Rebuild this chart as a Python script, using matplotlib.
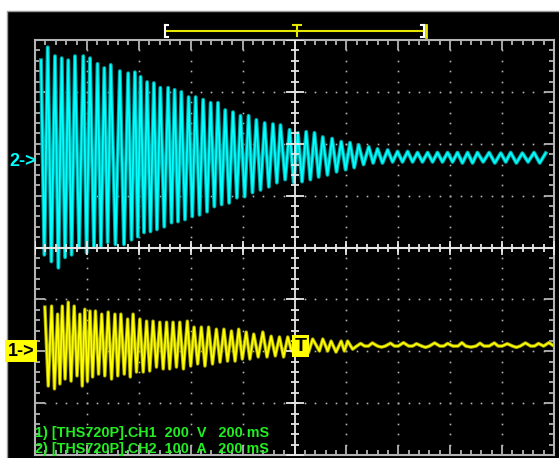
import numpy as np
import matplotlib
matplotlib.use('Agg')
import matplotlib.pyplot as plt
from matplotlib.patches import Rectangle
from matplotlib.lines import Line2D

plt.rcParams['font.family'] = ['Liberation Sans', 'DejaVu Sans']

# ---- channel 2 (current, A) : peaks and troughs, time in ms ----
ch2_peak_t = [-977, -951, -923, -897, -872, -846, -814, -788, -759, -733, -708, -673,
              -641, -615, -593, -568, -542, -517, -487, -462, -436, -408, -381,
              -352, -323, -295, -267, -237, -208, -177, -147, -115, -83, -54, -19, 13,
              45, 77, 109, 145, 180, 214, 247, 286, 320, 359, 397, 436,
              474, 513, 551, 590, 628, 667, 705, 750, 795, 833, 878, 923, 968]
ch2_peak_v = [188, 213, 196, 192, 188, 196, 196, 192, 181, 173, 179, 167,
              163, 165, 156, 146, 144, 135, 135, 131, 127, 117, 117,
              112, 106, 106, 92, 88, 81, 81, 73, 67, 65, 63, 54, 48,
              50, 48, 40, 37, 31, 29, 25, 21, 17, 15, 12, 12,
              10, 10, 10, 10, 10, 10, 10, 10, 9, 10, 9, 10, 9]
ch2_trough_t = [-964, -937, -910, -884, -859, -830, -801, -773, -746, -720, -690,
                -657, -628, -604, -580, -555, -530, -502, -474, -449, -422, -394,
                -366, -337, -309, -281, -252, -222, -192, -162, -131, -99, -68, -36, -3,
                29, 61, 93, 127, 162, 197, 230, 266, 303, 339, 378, 416, 455,
                493, 532, 570, 609, 647, 686, 727, 772, 814, 855, 900, 945]
ch2_trough_v = [-187, -200, -212, -192, -187, -173, -183, -171, -171, -163, -167,
                -167, -158, -152, -144, -142, -138, -133, -125, -123, -119, -113,
                -110, -104, -94, -90, -87, -77, -75, -67, -62, -56, -48, -42, -48,
                -46, -42, -37, -33, -27, -23, -19, -13, -10, -10, -8, -8, -8,
                -8, -8, -8, -8, -10, -10, -8, -10, -8, -10, -8, -10]

# ---- channel 1 (voltage, V) ----
ch1_peak_t = [-962, -936, -913, -895, -872, -849, -827, -808, -788, -767, -743,
              -718, -692, -669, -643, -622, -596, -570, -545, -519, -493,
              -468, -442, -413, -387, -359, -331, -301, -272, -243, -215, -186,
              -157, -122, -90, -58, -26, 4, 38, 70, 109, 141, 180, 205]
ch1_peak_v = [150, 154, 123, 154, 169, 154, 123, 142, 135, 135, 123,
              131, 123, 123, 104, 123, 104, 96, 96, 92, 92,
              92, 92, 96, 73, 73, 73, 65, 65, 58, 65, 54,
              46, 54, 38, 35, 35, 31, 27, 27, 27, 19, 19, 19]
ch1_trough_t = [-949, -925, -904, -884, -861, -838, -818, -798, -778, -755,
                -731, -705, -681, -656, -633, -609, -583, -558, -532, -506,
                -481, -455, -428, -400, -373, -345, -316, -287, -258, -229,
                -201, -172, -140, -106, -74, -42, -11, 21, 54,
                96, 128, 160, 192, 224]
ch1_trough_v = [-154, -165, -146, -127, -135, -115, -154, -135, -119, -108,
                -115, -127, -115, -108, -119, -100, -100, -96, -81, -88,
                -88, -81, -88, -77, -69, -77, -69, -62, -58, -58,
                -50, -50, -42, -42, -38, -42, -19, -30, -25,
                -19, -19, -23, -19, -12]
# residual noise after the oscillation has died out
ch1_tail_t = [240, 255, 270, 285, 300, 320, 335, 350, 370, 385, 400, 420, 440, 455, 470,
              490, 505, 520, 540, 560, 575, 590, 610, 630, 645, 660, 680, 700, 715, 730,
              750, 770, 785, 800, 820, 840, 855, 870, 890, 910, 925, 940, 960, 980, 1000]
ch1_tail_v = [0, 10, 0, 0, 12, 0, -4, 0, 11, 0, 0, 13, 0, 0, 9,
              0, -5, 0, 12, 0, 0, 10, 0, 0, 13, 0, -4, 0, 11, 0,
              0, 12, 0, 0, 9, 0, -5, 0, 12, 0, 0, 10, 0, 13, 0]

# scope settings
ch1_label = "1) [THS720P].CH1  200  V   200 mS"
ch2_label = "2) [THS720P].CH2  100  A   200 mS"
volt_per_div = 200
amp_per_div = 100
ms_per_div = 200
ch1_offset = -1.9   # divisions
ch2_offset = 1.73


def trace(peak_t, peak_v, trough_t, trough_v, tail_t=(), tail_v=()):
    t = np.array(list(peak_t) + list(trough_t) + list(tail_t), dtype=float)
    v = np.array(list(peak_v) + list(trough_v) + list(tail_v), dtype=float)
    order = np.argsort(t)
    return t[order], v[order]


W, H = 559, 458
fig = plt.figure(figsize=(W / 100, H / 100), dpi=100)
fig.patch.set_facecolor('white')
fig.add_artist(Rectangle((7 / W, -0.01), 1, (H - 11) / H + 0.01, transform=fig.transFigure,
                         facecolor='black', edgecolor='#9a9a9a', lw=1, zorder=-10))

ax = fig.add_axes([35 / W, 3 / H, 519 / W, 415 / H])
ax.set_facecolor('black')
ax.set_xlim(-5 * ms_per_div, 5 * ms_per_div)
ax.set_ylim(-4, 4)

grid_col = '#b4b4b4'
for s in ax.spines.values():
    s.set_color(grid_col)
    s.set_linewidth(1.5)
ax.set_xticks(np.arange(-1000, 1001, ms_per_div))
ax.set_xticks(np.arange(-1000, 1001, ms_per_div / 5), minor=True)
ax.set_yticks(np.arange(-4, 5, 1))
ax.set_yticks(np.arange(-4, 4.01, 0.2), minor=True)
ax.tick_params(which='both', direction='in', top=True, right=True, colors=grid_col,
               labelbottom=False, labelleft=False, width=1.3)
ax.tick_params(which='major', length=7)
ax.tick_params(which='minor', length=3.6)

# dotted graticule
minor_x = np.arange(-1000, 1001, ms_per_div / 5)
minor_y = np.arange(-4, 4.01, 0.2)
for gx in [-800, -600, -400, -200, 200, 400, 600, 800]:
    ax.plot(np.full_like(minor_y, gx), minor_y, ls='none', marker='s', ms=1.2,
            mew=0, color=grid_col, zorder=1)
for gy in [-3, -2, -1, 1, 2, 3]:
    ax.plot(minor_x, np.full_like(minor_x, gy), ls='none', marker='s', ms=1.2,
            mew=0, color=grid_col, zorder=1)

# traces (darker underlay gives the phosphor-like double stroke)
t2, v2 = trace(ch2_peak_t, ch2_peak_v, ch2_trough_t, ch2_trough_v)
ax.plot(t2, v2 / amp_per_div + ch2_offset, color='#00a4a4', lw=2.8, zorder=2)
ax.plot(t2, v2 / amp_per_div + ch2_offset, color='#00ffff', lw=1.3, zorder=2)
t1, v1 = trace(ch1_peak_t, ch1_peak_v, ch1_trough_t, ch1_trough_v, ch1_tail_t, ch1_tail_v)
ax.plot(t1, v1 / volt_per_div + ch1_offset, color='#a8a800', lw=2.5, zorder=2)
ax.plot(t1, v1 / volt_per_div + ch1_offset, color='#ffff00', lw=1.2, zorder=2)

# centre cross with ticks
centre_col = '#e6e6e6'
ax.axvline(0, color=centre_col, lw=1.3, zorder=3)
ax.axhline(0, color=centre_col, lw=1.5, zorder=3)
ax.plot(np.zeros_like(minor_y), minor_y, ls='none', marker='_', ms=6, mew=1.3,
        color=centre_col, zorder=3)
ax.plot(minor_x, np.zeros_like(minor_x), ls='none', marker='|', ms=6, mew=1.3,
        color=centre_col, zorder=3)
ax.plot(np.zeros(9), np.arange(-4, 5), ls='none', marker='_', ms=13, mew=1.3,
        color=centre_col, zorder=3)
ax.plot(np.arange(-1000, 1001, ms_per_div), np.zeros(11), ls='none', marker='|', ms=10,
        mew=1.3, color=centre_col, zorder=3)

# trigger marker on channel 1
ax.text(0, ch1_offset, 'T', ha='left', va='center', fontsize=14, fontweight='bold',
        color='black', zorder=5,
        bbox=dict(boxstyle='square,pad=0.12', fc='#ffff00', ec='none'))

# channel markers
fig.text(9 / W, 1 - 161 / H, '2->', color='#00ffff', fontsize=13, fontweight='bold',
         va='center', ha='left')
fig.text(8 / W, 1 - 351 / H, '1->', color='black', fontsize=13, fontweight='bold',
         va='center', ha='left',
         bbox=dict(boxstyle='square,pad=0.15', fc='#ffff00', ec='none'))

# record bar at the top
def px_line(x0, y0, x1, y1, color, lw=1.5):
    fig.add_artist(Line2D([x0 / W, x1 / W], [1 - y0 / H, 1 - y1 / H],
                          transform=fig.transFigure, color=color, lw=lw))

px_line(167, 31, 424, 31, '#e6e600')
px_line(165, 25, 165, 37, 'white')
px_line(165, 25, 168, 25, 'white')
px_line(165, 37, 168, 37, 'white')
px_line(424, 25, 424, 37, 'white')
px_line(421, 25, 424, 25, 'white')
px_line(421, 37, 424, 37, 'white')
px_line(426.5, 25, 426.5, 37, '#e6e600', lw=2)
px_line(293, 25, 301, 25, '#e6e600')
px_line(297, 25, 297, 36, '#e6e600')

# channel settings text
fig.text(35 / W, 1 - 433 / H, ch1_label, color='#22ee22', fontsize=10.4, fontweight='bold',
         va='center', ha='left')
fig.text(35 / W, 1 - 449 / H, ch2_label, color='#22ee22', fontsize=10.4, fontweight='bold',
         va='center', ha='left')

fig.savefig('out.png', dpi=100, facecolor=fig.get_facecolor())
